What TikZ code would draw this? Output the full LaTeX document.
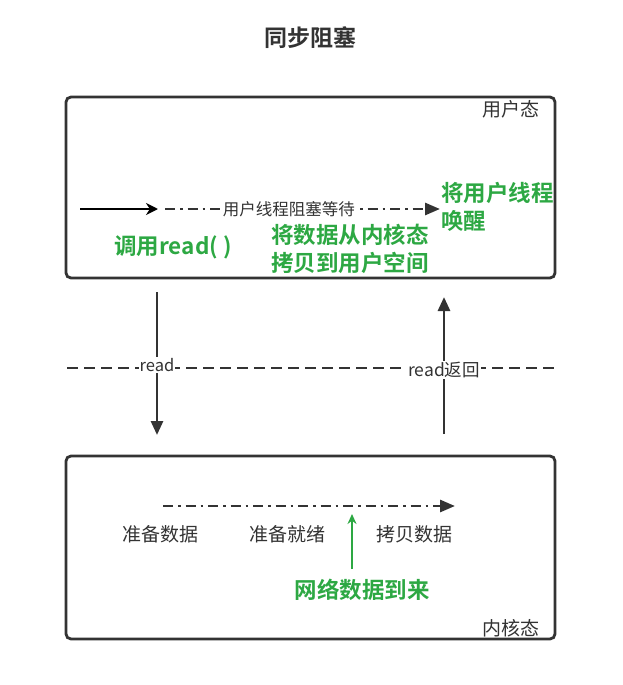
\documentclass[tikz,border=0pt]{standalone}
\usepackage{fontspec}
\setmainfont{Noto Sans CJK SC}[BoldFont={* Bold}]
\usetikzlibrary{arrows.meta}
\definecolor{ink}{HTML}{333333}
\definecolor{note}{HTML}{2DA843}
\tikzset{
  x=1pt, y=-1pt,
  panel/.style={draw=ink, line width=2.8pt, rounded corners=5pt},
  plain/.style={text=ink, font=\fontsize{19}{21}\selectfont, inner sep=1pt},
  small/.style={text=ink, font=\fontsize{16.5}{18}\selectfont, fill=white, inner sep=1pt},
  notes/.style={text=note, font=\bfseries\fontsize{22.5}{28}\selectfont, inner sep=0pt, align=left},
  flow/.style={draw=ink, line width=2.8pt, dash pattern=on 10pt off 5pt on 2.5pt off 5pt, -{Triangle[length=15pt,width=12pt]}},
  updown/.style={draw=ink, line width=2.8pt, -{Triangle[length=14pt,width=12pt]}},
}
\begin{document}
\begin{tikzpicture}
\useasboundingbox (0,0) rectangle (622,685);
% title
\node[text=ink, font=\bfseries\fontsize{23}{25}\selectfont] (title) at (310,38) {同步阻塞};
% user space panel
\draw[panel] (66,97) rectangle (555,278);
\node[plain, anchor=east] (user) at (541,109) {用户态};
\coordinate (callA) at (80,209);
\coordinate (callB) at (158,209);
\draw[black, line width=2.8pt, -{Stealth[length=12pt,width=12pt]}] (callA) -- (callB);
\coordinate (waitA) at (165,209);
\coordinate (waitB) at (440,209);
\draw[flow] (waitA) -- (waitB) node[small, pos=0.45] (wait) {用户线程阻塞等待};
\node[notes] (call) at (173,247) {调用read( )};
\node[notes, align=center] (copy) at (350,249) {将数据从内核态\\拷贝到用户空间};
\node[notes, anchor=north west] (wake) at (441,182) {将用户线程\\唤醒};
% boundary between the two spaces
\coordinate (bndA) at (67,368);
\coordinate (bndB) at (557,368);
\draw[ink, line width=2.8pt, dash pattern=on 11pt off 6pt] (bndA) -- (bndB);
\coordinate (rdA) at (157,292);
\coordinate (rdB) at (157,435);
\draw[updown] (rdA) -- (rdB) node[small, pos=0.51] (read) {read};
\coordinate (rtA) at (444,434);
\coordinate (rtB) at (444,297);
\draw[updown] (rtA) -- (rtB) node[small, pos=0.47, font=\fontsize{17.5}{19}\selectfont] (ret) {read返回};
% kernel space panel
\draw[panel] (66,456) rectangle (555,639);
\node[plain, anchor=east] (kernel) at (541,628) {内核态};
\coordinate (kA) at (163,506);
\coordinate (kB) at (455,506);
\draw[flow] (kA) -- (kB);
\node[plain] (prep) at (160,534) {准备数据};
\node[plain] (ready) at (287,534) {准备就绪};
\node[plain] (cp) at (414,534) {拷贝数据};
\coordinate (netA) at (352,569);
\coordinate (netB) at (352,514);
\draw[note, line width=2.4pt, -{Stealth[length=10pt,width=9pt]}] (netA) -- (netB);
\node[notes] (net) at (362,590) {网络数据到来};
\end{tikzpicture}
\end{document}
